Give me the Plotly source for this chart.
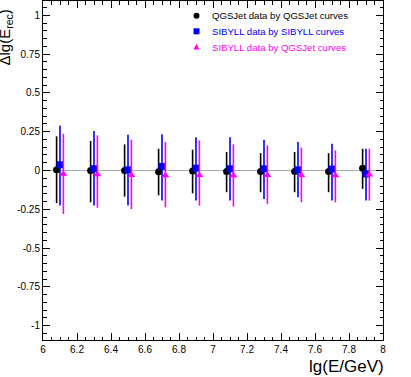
import plotly.graph_objects as go

# ---- data ----
x_qgs = [6.08, 6.28, 6.48, 6.68, 6.88, 7.08, 7.28, 7.48, 7.68, 7.88]
x_sib = [6.10, 6.30, 6.50, 6.70, 6.90, 7.10, 7.30, 7.50, 7.70, 7.90]
x_sbq = [6.12, 6.32, 6.52, 6.72, 6.92, 7.12, 7.32, 7.52, 7.72, 7.92]

qgs_y = [0.005, 0.0, 0.0, -0.008, -0.004, -0.006, -0.006, -0.006, -0.006, 0.015]
qgs_top = [0.22, 0.19, 0.168, 0.14, 0.134, 0.119, 0.112, 0.119, 0.112, 0.14]
qgs_bot = [-0.21, -0.205, -0.168, -0.16, -0.147, -0.14, -0.14, -0.14, -0.14, -0.118]

sib_y = [0.037, 0.011, 0.004, 0.026, 0.015, 0.011, 0.011, 0.004, 0.009, -0.022]
sib_top = [0.29, 0.254, 0.23, 0.233, 0.215, 0.215, 0.198, 0.183, 0.172, 0.14]
sib_bot = [-0.226, -0.226, -0.226, -0.194, -0.194, -0.194, -0.183, -0.172, -0.194, -0.194]

sbq_y = [-0.022, -0.025, -0.03, -0.032, -0.03, -0.032, -0.03, -0.03, -0.032, -0.028]
sbq_top = [0.237, 0.226, 0.198, 0.183, 0.194, 0.168, 0.162, 0.147, 0.13, 0.14]
sbq_bot = [-0.28, -0.24, -0.248, -0.237, -0.226, -0.233, -0.215, -0.205, -0.205, -0.194]

names = ["QGSJet data by QGSJet curves",
         "SIBYLL data by SIBYLL curves",
         "SIBYLL data by QGSJet curves"]
colors = ["black", "#0000ff", "#ff00ff"]

xtick_vals = [6, 6.2, 6.4, 6.6, 6.8, 7, 7.2, 7.4, 7.6, 7.8, 8]
xtick_text = ["6", "6.2", "6.4", "6.6", "6.8", "7", "7.2", "7.4", "7.6", "7.8", "8"]
ytick_vals = [-1, -0.75, -0.5, -0.25, 0, 0.25, 0.5, 0.75, 1]
ytick_text = ["-1", "-0.75", "-0.5", "-0.25", "0", "0.25", "0.5", "0.75", "1"]

FONT = "Liberation Sans"

W, H = 411, 377
ML, MR, MT, MB = 43, 28, 1, 37
PW, PH = W - ML - MR, H - MT - MB


def px_to_paper(px, py):
    return (px - ML) / PW, (H - MB - py) / PH


def err(y, top, bot, col):
    plus = [t - v for t, v in zip(top, y)]
    minus = [v - b for v, b in zip(y, bot)]
    return dict(type="data", symmetric=False, array=plus, arrayminus=minus,
                width=0, thickness=1.6, color=col)


fig = go.Figure()
series = [
    (x_qgs, qgs_y, qgs_top, qgs_bot, colors[0], "circle"),
    (x_sib, sib_y, sib_top, sib_bot, colors[1], "square"),
    (x_sbq, sbq_y, sbq_top, sbq_bot, colors[2], "triangle-up"),
]
for (xs, ys, tp, bt, col, sym), nm in zip(series, names):
    fig.add_trace(go.Scatter(
        x=xs, y=ys, mode="markers", name=nm, showlegend=False,
        marker=dict(symbol=sym, size=7, color=col, line=dict(width=0)),
        error_y=err(ys, tp, bt, col),
    ))

axis_common = dict(
    showline=True, linecolor="black", linewidth=1, mirror="ticks",
    ticks="inside", ticklen=7, tickwidth=1, tickcolor="black",
    showgrid=False, automargin=False,
    tickfont=dict(family=FONT, size=10, color="black"),
)

fig.update_xaxes(range=[6, 8], tickvals=xtick_vals, ticktext=xtick_text,
                 zeroline=False,
                 minor=dict(ticks="inside", ticklen=3.5, dtick=0.05, tickcolor="black", showgrid=False),
                 **axis_common)
fig.update_yaxes(range=[-1.092, 1.092], tickvals=ytick_vals, ticktext=ytick_text,
                 zeroline=True, zerolinecolor="#aaaaaa", zerolinewidth=1,
                 minor=dict(ticks="inside", ticklen=3.5, dtick=0.05, tickcolor="black", showgrid=False),
                 **axis_common)

# axis titles (ROOT style, aligned to the axis ends)
tx, ty = px_to_paper(17, 67)
fig.add_annotation(text="Δlg(E<sub>rec</sub>)", textangle=-90,
                   xref="paper", yref="paper", x=tx, y=ty,
                   xanchor="right", yanchor="bottom", showarrow=False,
                   font=dict(family=FONT, size=15, color="black"))
tx, ty = px_to_paper(386, 366)
fig.add_annotation(text="lg(E/GeV)",
                   xref="paper", yref="paper", x=tx, y=ty,
                   xanchor="right", yanchor="middle", showarrow=False,
                   font=dict(family=FONT, size=17, color="black"))

# legend (drawn manually, ROOT-like compact spacing)
leg_sym_x = 196.5
leg_txt_x = 210
leg_ys = [15.7, 31.3, 47.0]
r = 3.0
for i, (nm, col, py) in enumerate(zip(names, colors, leg_ys)):
    x0, y0 = px_to_paper(leg_sym_x - r, py + r)
    x1, y1 = px_to_paper(leg_sym_x + r, py - r)
    if i == 0:
        fig.add_shape(type="circle", xref="paper", yref="paper",
                      x0=x0, y0=y0, x1=x1, y1=y1,
                      fillcolor=col, line=dict(width=0))
    elif i == 1:
        fig.add_shape(type="rect", xref="paper", yref="paper",
                      x0=x0, y0=y0, x1=x1, y1=y1,
                      fillcolor=col, line=dict(width=0))
    else:
        ax, ay = px_to_paper(leg_sym_x - r, py + 2.5)
        bx, by = px_to_paper(leg_sym_x + r, py + 2.5)
        cx, cy = px_to_paper(leg_sym_x, py - 3.2)
        fig.add_shape(type="path", xref="paper", yref="paper",
                      path="M %f %f L %f %f L %f %f Z" % (ax, ay, bx, by, cx, cy),
                      fillcolor=col, line=dict(width=0))
    lx, ly = px_to_paper(leg_txt_x, py)
    fig.add_annotation(text=nm, xref="paper", yref="paper", x=lx, y=ly,
                       xanchor="left", yanchor="middle", showarrow=False,
                       font=dict(family=FONT, size=9.6, color=col))

fig.update_layout(
    width=W, height=H,
    margin=dict(l=ML, r=MR, t=MT, b=MB),
    paper_bgcolor="white", plot_bgcolor="white",
    showlegend=False,
)

fig.write_html("out.html", config={"displayModeBar": False},
               post_script="document.body.style.margin='0px';document.body.style.padding='0px';")
